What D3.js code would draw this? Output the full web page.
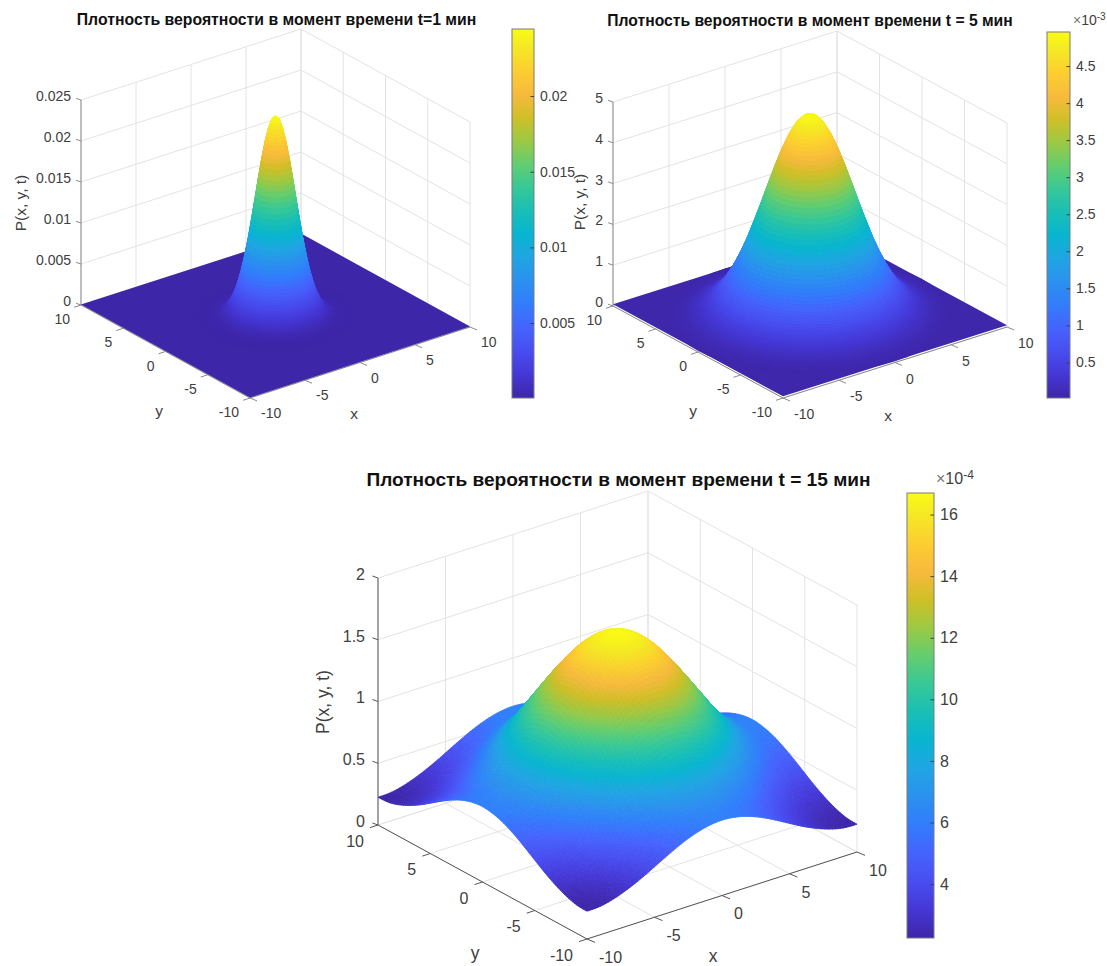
<!DOCTYPE html>
<html>
<head>
<meta charset="utf-8">
<script src="https://cdn.jsdelivr.net/npm/d3@7"></script>
<style>
html, body { margin: 0; padding: 0; background: #fff; }
svg { display: block; }
text { font-family: "Liberation Sans", Arial, sans-serif; }
</style>
</head>
<body>
<div id="chart"></div>
<script>
// grid lines and tick labels shared by the three plots
var xyTicks = [-10, -5, 0, 5, 10];

var titles = [
    "Плотность вероятности в момент времени t=1 мин",
    "Плотность вероятности в момент времени t = 5 мин",
    "Плотность вероятности в момент времени t = 15 мин"
];

var zTicks1 = [0, 0.005, 0.01, 0.015, 0.02, 0.025];
var zLabels1 = ["0", "0.005", "0.01", "0.015", "0.02", "0.025"];
var zTicks2 = [0, 1, 2, 3, 4, 5];
var zLabels2 = ["0", "1", "2", "3", "4", "5"];
var zTicks3 = [0, 5, 10, 15, 20]; // in units of 1e-4, labelled in 1e-3
var zLabels3 = ["0", "0.5", "1", "1.5", "2"];

var barTicks1 = [0.005, 0.01, 0.015, 0.02];
var barTicks2 = [0.5, 1, 1.5, 2, 2.5, 3, 3.5, 4, 4.5];
var barTicks3 = [4, 6, 8, 10, 12, 14, 16];

// t=1: the surface is round, so values are read along a radius from the centre
var radius1 = [0, 0.25, 0.5, 0.75, 1, 1.25, 1.5, 1.75, 2, 2.25, 2.5, 2.75, 3, 3.25, 3.5, 3.75, 4, 4.25, 4.5, 5, 6];
var density1 = [0.0244, 0.02403, 0.02296, 0.02127, 0.01912, 0.01667, 0.0141, 0.01156, 0.0092, 0.0071, 0.00531,
    0.00386, 0.00272, 0.00186, 0.00123, 0.00079, 0.00049, 0.0003, 0.00017, 0.00008, 0.00005];

// t=5, same thing, units of 1e-3
var radius2 = [0, 0.5, 1, 1.5, 2, 2.5, 3, 3.5, 4, 4.5, 5, 5.5, 6, 6.5, 7, 7.5, 8, 8.5, 9, 9.5, 10];
var density2 = [4.96, 4.9, 4.73, 4.45, 4.09, 3.67, 3.21, 2.74, 2.29, 1.86, 1.48, 1.15, 0.87, 0.64, 0.465, 0.328,
    0.225, 0.151, 0.099, 0.063, 0.04];

// t=15, one quadrant (|x|, |y| = 0..10), mirrored on draw, units of 1e-4
var quadrant3 = [
    [16.7, 16.42, 15.61, 14.38, 12.84, 11.19, 9.54, 8.13, 7.01, 6.31, 6.10],
    [16.42, 16.14, 15.35, 14.13, 12.62, 11.0, 9.37, 7.99, 6.89, 6.20, 5.99],
    [15.61, 15.35, 14.60, 13.44, 12.01, 10.46, 8.92, 7.60, 6.56, 5.90, 5.70],
    [14.38, 14.13, 13.44, 12.38, 11.06, 9.63, 8.21, 7.00, 6.04, 5.44, 5.25],
    [12.84, 12.62, 12.01, 11.06, 9.88, 8.60, 7.33, 6.25, 5.39, 4.85, 4.69],
    [11.19, 11.0, 10.46, 9.63, 8.60, 7.50, 6.39, 5.45, 4.70, 4.23, 4.08],
    [9.54, 9.37, 8.92, 8.21, 7.33, 6.39, 5.44, 4.64, 4.00, 3.60, 3.48],
    [8.13, 7.99, 7.60, 7.00, 6.25, 5.45, 4.64, 3.96, 3.42, 3.07, 2.97],
    [7.01, 6.89, 6.56, 6.04, 5.39, 4.70, 4.00, 3.42, 2.95, 2.65, 2.56],
    [6.31, 6.20, 5.90, 5.44, 4.85, 4.23, 3.60, 3.07, 2.65, 2.39, 2.30],
    [6.10, 5.99, 5.70, 5.25, 4.69, 4.08, 3.48, 2.97, 2.56, 2.30, 2.25]
];

// parula
var colormap = ["#3e26a8", "#4537d5", "#484df0", "#4563fd", "#327cfc", "#2b91ef", "#20a5e3", "#08b5d0", "#19bfb6",
    "#37c897", "#64cd6f", "#9dc943", "#d1bf27", "#f8ba3d", "#fccf30", "#f5e924", "#f9fb15"];
var colormapPos = [0, 4, 8, 12, 16, 20, 24, 28, 32, 36, 40, 44, 48, 52, 56, 60, 63].map(function(d) { return d / 63; });

var width = 1107, height = 966;
var svg = d3.select("#chart").append("svg").attr("width", width).attr("height", height);
var defs = svg.append("defs");

// curve through the nodes, used for shading between them (same idea as d3.curveCatmullRom)
function spline(a, b, c, d, u) {
    return b + 0.5 * u * (c - a + u * (2 * a - 5 * b + 4 * c - d + u * (3 * (b - c) + d - a)));
}

function drawPanel(p) {
    var g = svg.append("g");

    var xX = d3.scaleLinear([-10, 10], [0, p.right[0] - p.front[0]]);
    var xY = d3.scaleLinear([-10, 10], [0, p.right[1] - p.front[1]]);
    var yX = d3.scaleLinear([-10, 10], [0, p.left[0] - p.front[0]]);
    var yY = d3.scaleLinear([-10, 10], [0, p.left[1] - p.front[1]]);
    var zY = d3.scaleLinear([0, p.zTicks[p.zTicks.length - 1]], [0, -p.zHeight]);

    function pt(x, y, z) {
        return [p.front[0] + xX(x) + yX(y), p.front[1] + xY(x) + yY(y) + zY(z)];
    }
    function seg(sel, a, b, color, w) {
        sel.append("line")
            .attr("x1", a[0]).attr("y1", a[1])
            .attr("x2", b[0]).attr("y2", b[1])
            .attr("stroke", color).attr("stroke-width", w);
    }

    var barScale = d3.scaleLinear(p.barDomain, [p.bar.bottom, p.bar.top]);
    var color = d3.scaleLinear()
        .domain(colormapPos.map(function(d) { return p.barDomain[0] + d * (p.barDomain[1] - p.barDomain[0]); }))
        .range(colormap)
        .clamp(true);

    // walls and floor
    var zTop = p.zTicks[p.zTicks.length - 1];
    var grid = g.append("g");
    var gridColor = "#e3e3e3";
    xyTicks.forEach(function(t) {
        seg(grid, pt(t, 10, 0), pt(t, 10, zTop), gridColor, 1);
        seg(grid, pt(10, t, 0), pt(10, t, zTop), gridColor, 1);
        seg(grid, pt(t, -10, 0), pt(t, 10, 0), gridColor, 1);
        seg(grid, pt(-10, t, 0), pt(10, t, 0), gridColor, 1);
    });
    p.zTicks.forEach(function(t) {
        seg(grid, pt(-10, 10, t), pt(10, 10, t), gridColor, 1);
        seg(grid, pt(10, 10, t), pt(10, -10, t), gridColor, 1);
    });

    // axis lines and ticks
    var axes = g.append("g");
    var axisColor = p.axisColor;
    seg(axes, pt(-10, -10, 0), pt(10, -10, 0), axisColor, 1);
    seg(axes, pt(-10, -10, 0), pt(-10, 10, 0), axisColor, 1);
    seg(axes, pt(-10, 10, 0), pt(-10, 10, zTop), axisColor, 1);

    var tk = p.tickLen;
    xyTicks.forEach(function(t) {
        var a = pt(t, -10, 0);
        seg(axes, a, [a[0] + tk, a[1] + tk * 0.42], axisColor, 1);
        var b = pt(-10, t, 0);
        seg(axes, b, [b[0] - tk, b[1] + tk * 0.33], axisColor, 1);
        g.append("text").attr("x", a[0] + p.xLab[0]).attr("y", a[1] + p.xLab[1])
            .attr("dy", "0.36em").attr("font-size", p.tickFont).attr("fill", "#404040").text(t);
        g.append("text").attr("x", b[0] + p.yLab[0]).attr("y", b[1] + p.yLab[1])
            .attr("dy", "0.36em").attr("text-anchor", "end").attr("font-size", p.tickFont)
            .attr("fill", "#404040").text(t);
    });
    p.zTicks.forEach(function(t, i) {
        var a = pt(-10, 10, t);
        seg(axes, a, [a[0] - tk * 0.7, a[1] - tk * 0.25], axisColor, 1);
        g.append("text").attr("x", a[0] + p.zLab[0]).attr("y", a[1] + p.zLab[1])
            .attr("dy", "0.36em").attr("text-anchor", "end").attr("font-size", p.tickFont)
            .attr("fill", "#404040").text(p.zLabels[i]);
    });

    // surface, back to front. Facets between data nodes are split only to shade them smoothly
    var faces = [];
    if (p.radius) {
        var low = p.density[p.density.length - 1];
        var sectors = 60, split = 4;
        d3.range(sectors).forEach(function(s) {
            var a0 = s / sectors * 2 * Math.PI, a1 = (s + 1) / sectors * 2 * Math.PI;
            d3.range(p.radius.length - 1).forEach(function(i) {
                d3.range(split).forEach(function(k) {
                    var r0 = p.radius[i] + (p.radius[i + 1] - p.radius[i]) * k / split;
                    var r1 = p.radius[i] + (p.radius[i + 1] - p.radius[i]) * (k + 1) / split;
                    var v0 = p.density[i] + (p.density[i + 1] - p.density[i]) * k / split;
                    var v1 = p.density[i] + (p.density[i + 1] - p.density[i]) * (k + 1) / split;
                    faces.push({
                        pts: [
                            [r0 * Math.cos(a0), r0 * Math.sin(a0), v0],
                            [r1 * Math.cos(a0), r1 * Math.sin(a0), v1],
                            [r1 * Math.cos(a1), r1 * Math.sin(a1), v1],
                            [r0 * Math.cos(a1), r0 * Math.sin(a1), v0]
                        ],
                        v: (v0 + v1) / 2
                    });
                });
            });
        });
        g.append("path")
            .attr("d", "M" + [pt(-10, -10, low), pt(10, -10, low), pt(10, 10, low), pt(-10, 10, low)].join("L") + "Z")
            .attr("fill", color(low));
    } else {
        var n = 5;
        // node lookup, the surface reflects at the walls
        var val = function(i, j) {
            var a = Math.abs(i - 10), b = Math.abs(j - 10);
            return p.quadrant[a > 10 ? 20 - a : a][b > 10 ? 20 - b : b];
        };
        d3.range(20).forEach(function(i) {
            d3.range(20).forEach(function(j) {
                var blend = function(u, w) {
                    var col = [-1, 0, 1, 2].map(function(d) {
                        return spline(val(i + d, j - 1), val(i + d, j), val(i + d, j + 1), val(i + d, j + 2), w);
                    });
                    return spline(col[0], col[1], col[2], col[3], u);
                };
                d3.range(n).forEach(function(a) {
                    d3.range(n).forEach(function(b) {
                        var u0 = a / n, u1 = (a + 1) / n, w0 = b / n, w1 = (b + 1) / n;
                        faces.push({
                            pts: [
                                [i - 10 + u0, j - 10 + w0, blend(u0, w0)],
                                [i - 10 + u1, j - 10 + w0, blend(u1, w0)],
                                [i - 10 + u1, j - 10 + w1, blend(u1, w1)],
                                [i - 10 + u0, j - 10 + w1, blend(u0, w1)]
                            ],
                            v: blend((u0 + u1) / 2, (w0 + w1) / 2)
                        });
                    });
                });
            });
        });
    }
    faces.forEach(function(f) {
        f.depth = d3.mean(f.pts, function(q) { return 0.61 * q[0] + 0.79 * q[1]; });
    });
    faces.sort(function(a, b) { return b.depth - a.depth; });
    g.append("g").selectAll("path").data(faces).enter().append("path")
        .attr("d", function(f) {
            return "M" + f.pts.map(function(q) {
                var s = pt(q[0], q[1], q[2]);
                return s[0].toFixed(2) + "," + s[1].toFixed(2);
            }).join("L") + "Z";
        })
        .attr("fill", function(f) { return color(f.v); })
        .attr("stroke", function(f) { return color(f.v); })
        .attr("stroke-width", 0.8)
        .attr("stroke-linejoin", "round");

    // labels
    g.append("text").attr("x", p.titlePos[0]).attr("y", p.titlePos[1]).attr("dy", "0.36em")
        .attr("text-anchor", "middle").attr("font-weight", "bold").attr("font-size", p.titleFont)
        .attr("fill", "#111").text(p.title);
    g.append("text").attr("x", p.xName[0]).attr("y", p.xName[1]).attr("text-anchor", "middle").attr("dy", "0.25em")
        .attr("font-size", p.labelFont).attr("fill", "#404040").text("x");
    g.append("text").attr("x", p.yName[0]).attr("y", p.yName[1]).attr("text-anchor", "middle").attr("dy", "0.25em")
        .attr("font-size", p.labelFont).attr("fill", "#404040").text("y");
    g.append("text").attr("text-anchor", "middle").attr("dy", "0.36em")
        .attr("transform", "translate(" + p.zName[0] + "," + p.zName[1] + ") rotate(-90)")
        .attr("font-size", p.labelFont).attr("fill", "#404040").text("P(x, y, t)");

    // colorbar
    var gid = "bar" + p.id;
    defs.append("linearGradient").attr("id", gid)
        .attr("x1", 0).attr("y1", 1).attr("x2", 0).attr("y2", 0)
        .selectAll("stop").data(colormap).enter().append("stop")
        .attr("offset", function(d, i) { return colormapPos[i]; })
        .attr("stop-color", function(d) { return d; });
    var barW = p.bar.right - p.bar.left;
    g.append("rect").attr("x", p.bar.left).attr("y", p.bar.top)
        .attr("width", barW).attr("height", p.bar.bottom - p.bar.top)
        .attr("fill", "url(#" + gid + ")")
        .attr("stroke", "#7a7a7a").attr("stroke-width", 1);
    var barAxis = g.append("g").attr("transform", "translate(" + p.bar.right + ",0)")
        .call(d3.axisRight(barScale).tickValues(p.barTicks).tickFormat(function(d) { return d; })
            .tickSizeInner(-3.5).tickSizeOuter(0).tickPadding(6));
    barAxis.select(".domain").remove();
    barAxis.selectAll("line").attr("stroke", "#404040");
    barAxis.selectAll("text").attr("font-size", p.tickFont).attr("font-family", null).attr("fill", "#404040");

    if (p.exponent) {
        var e = g.append("text").attr("x", p.expPos[0]).attr("y", p.expPos[1]).attr("font-size", p.tickFont)
            .attr("fill", "#404040");
        e.append("tspan").attr("fill", "#777").text("×");
        e.append("tspan").text("10");
        e.append("tspan").attr("dy", -5).attr("font-size", p.tickFont - 4).text(p.exponent);
    }
}

var panels = [
    {
        id: 1, title: titles[0], titlePos: [276.5, 19], titleFont: 15.8,
        front: [250, 398], right: [470, 327], left: [81, 305], zHeight: 205,
        zTicks: zTicks1, zLabels: zLabels1, radius: radius1, density: density1,
        barDomain: [0.00005, 0.02443], barTicks: barTicks1,
        bar: { left: 512, right: 534, top: 29, bottom: 398 },
        tickFont: 14, labelFont: 15.5, tickLen: 7, axisColor: "#8a8a8a",
        xLab: [11, 15], yLab: [-11, 14], zLab: [-10, -4],
        xName: [354, 415], yName: [159, 412], zName: [20, 203]
    },
    {
        id: 2, title: titles[1], titlePos: [810, 20], titleFont: 15.7,
        front: [783, 398], right: [1007, 327], left: [613, 306], zHeight: 204,
        zTicks: zTicks2, zLabels: zLabels2, radius: radius2, density: density2,
        barDomain: [0.02, 4.96], barTicks: barTicks2,
        bar: { left: 1047, right: 1070, top: 32, bottom: 398 },
        tickFont: 14, labelFont: 15.5, tickLen: 7, axisColor: "#8a8a8a",
        xLab: [11, 16], yLab: [-11, 14], zLab: [-10, -4],
        xName: [888, 417], yName: [693, 412], zName: [579, 202],
        exponent: "-3", expPos: [1073, 25]
    },
    {
        id: 3, title: titles[2], titlePos: [618.5, 479], titleFont: 19.1,
        front: [587, 939], right: [857, 852], left: [378, 825], zHeight: 247,
        zTicks: zTicks3, zLabels: zLabels3, quadrant: quadrant3,
        barDomain: [2.25, 16.7], barTicks: barTicks3,
        bar: { left: 907, right: 934, top: 493, bottom: 938 },
        tickFont: 16, labelFont: 17.5, tickLen: 8, axisColor: "#555",
        xLab: [12, 18], yLab: [-14, 16], zLab: [-13, -4],
        xName: [713, 957.5], yName: [475, 955], zName: [323, 702],
        exponent: "-4", expPos: [936, 484]
    }
];

panels.forEach(drawPanel);
</script>
</body>
</html>
